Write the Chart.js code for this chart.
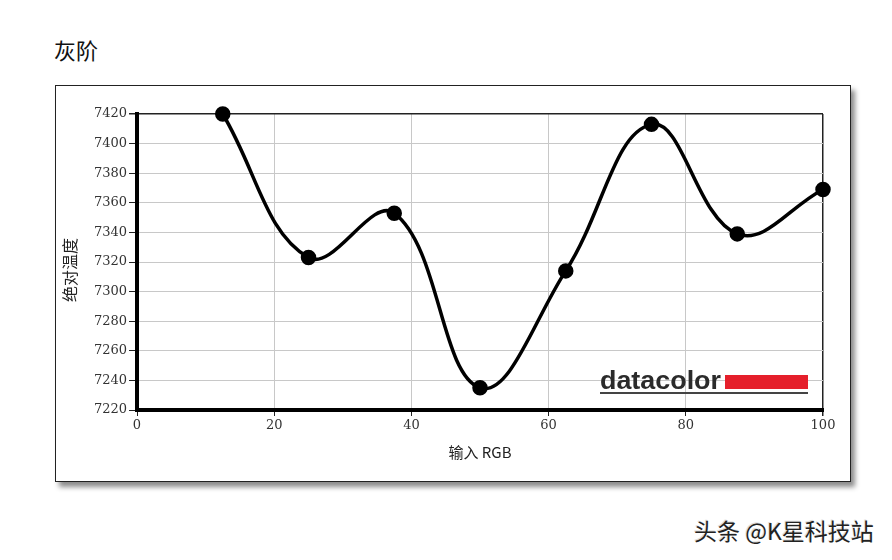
<!DOCTYPE html>
<html>
<head>
<meta charset="utf-8">
<script src="https://cdn.jsdelivr.net/npm/chart.js@4.4.1/dist/chart.umd.min.js"></script>
<style>
    body { margin: 0; width: 892px; height: 560px; background: #fff; position: relative; overflow: hidden; }
    #title { position: absolute; left: 54px; top: 33px; font: 22px "Noto Sans CJK SC", sans-serif; color: #111; }
    #frame { position: absolute; left: 55px; top: 85px; width: 796px; height: 397px; box-sizing: border-box;
             border: 1px solid #222; background: #fff; box-shadow: 4px 5px 5px rgba(0,0,0,0.45); }
    #chartBox { position: absolute; left: 0; top: 0; width: 794px; height: 395px; }
    #mark { position: absolute; left: 694px; top: 513px; font: 23px "Noto Sans CJK SC", sans-serif; color: #222;
            text-shadow: 1px 1px 0 #fff, -1px -1px 0 #ddd; }
</style>
</head>
<body>
<div id="title">灰阶</div>
<div id="frame">
    <div id="chartBox"><canvas id="grayChart"></canvas></div>
</div>
<div id="mark">头条 @K星科技站</div>

<script>
// Input RGB level (%) and measured colour temperature (K)
const rgbInput = [12.5, 25, 37.5, 50, 62.5, 75, 87.5, 100];
const tempValues = [7420, 7323, 7353, 7235, 7314, 7413, 7339, 7369];

const xTicks = [0, 20, 40, 60, 80, 100];
const yTicks = [7220, 7240, 7260, 7280, 7300, 7320, 7340, 7360, 7380, 7400, 7420];

const tickFont = { family: '"DejaVu Serif", serif', size: 13 };

// datacolor logo in the lower right corner of the plot
const logoPlugin = {
    id: 'logo',
    beforeDatasetsDraw(chart) {
        const { ctx, chartArea } = chart;
        const left = chartArea.right - 223;
        const base = chartArea.bottom - 21;
        ctx.save();
        ctx.font = 'bold 26px "Liberation Sans", Arial, sans-serif';
        const w = ctx.measureText('datacolor').width;
        ctx.translate(left, base);
        ctx.scale(121 / w, 1);
        ctx.fillStyle = '#2b2b2b';
        ctx.textBaseline = 'alphabetic';
        ctx.fillText('datacolor', 0, 0);
        ctx.restore();

        ctx.save();
        ctx.fillStyle = '#e51f2b';
        ctx.fillRect(left + 125, base - 14, 83, 14);
        ctx.fillStyle = '#444';
        ctx.fillRect(left, base + 3, 208, 2);
        ctx.restore();
    }
};

new Chart(document.getElementById('grayChart'), {
    type: 'scatter',
    data: {
        datasets: [{
            data: rgbInput.map((x, i) => ({ x: x, y: tempValues[i] })),
            showLine: true,
            borderColor: '#000',
            backgroundColor: '#000',
            borderWidth: 3.5,
            tension: 0.4,
            pointRadius: 6,
            pointHoverRadius: 6,
            clip: false
        }]
    },
    options: {
        responsive: true,
        maintainAspectRatio: false,
        animation: false,
        layout: { padding: { top: 28, right: 27, bottom: 16, left: 0 } },
        plugins: {
            legend: { display: false },
            tooltip: { enabled: false }
        },
        scales: {
            x: {
                type: 'linear',
                min: 0,
                max: 100,
                afterBuildTicks: (axis) => { axis.ticks = xTicks.map(v => ({ value: v })); },
                afterFit: (axis) => { axis.height = 55; },
                ticks: { color: '#333', font: tickFont, padding: 2, maxRotation: 0, callback: (v) => String(v) },
                grid: {
                    color: (c) => c.tick && c.tick.value === 100 ? '#222' : '#c8c8c8',
                    lineWidth: (c) => c.tick && c.tick.value === 100 ? 1.5 : 1,
                    tickColor: '#222',
                    tickLength: 6
                },
                border: { display: true, color: '#000', width: 4 },
                title: {
                    display: true,
                    text: '输入 RGB',
                    color: '#222',
                    font: { family: '"Noto Sans CJK SC", "DejaVu Serif", serif', size: 15 },
                    padding: { top: 0, bottom: 4 }
                }
            },
            y: {
                min: 7220,
                max: 7420,
                afterBuildTicks: (axis) => { axis.ticks = yTicks.map(v => ({ value: v })); },
                afterFit: (axis) => { axis.width = 81; },
                ticks: { color: '#333', font: tickFont, padding: 2, callback: (v) => String(v) },
                grid: {
                    color: (c) => c.tick && c.tick.value === 7420 ? '#222' : '#c8c8c8',
                    lineWidth: (c) => c.tick && c.tick.value === 7420 ? 1.5 : 1,
                    tickColor: '#222',
                    tickLength: 8
                },
                border: { display: true, color: '#000', width: 4 },
                title: {
                    display: true,
                    // trailing full-width space nudges the label down like in the source
                    text: '绝对温度\u3000',
                    color: '#222',
                    font: { family: '"Noto Sans CJK SC", sans-serif', size: 16 },
                    padding: { top: 4, bottom: 0 }
                }
            }
        }
    },
    plugins: [logoPlugin]
});
</script>
</body>
</html>
